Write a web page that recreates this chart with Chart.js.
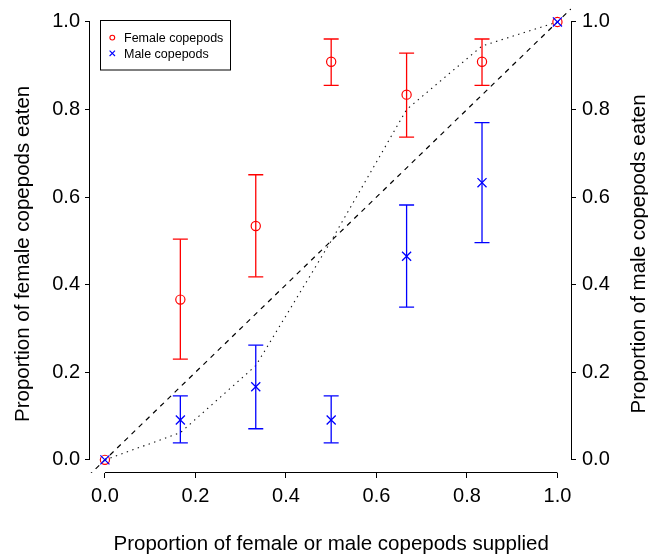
<!DOCTYPE html>
<html><head><meta charset="utf-8">
<script src="https://cdn.jsdelivr.net/npm/chart.js@4.4.1/dist/chart.umd.min.js"></script>
<style>html,body{margin:0;padding:0;background:#fff;}</style>
</head><body>
<canvas id="c" width="648" height="556" style="width:648px;height:556px;display:block"></canvas>
<script>
// ---- data ----
const supplied    = [0, 1/6, 1/3, 1/2, 2/3, 5/6, 1];
const femaleEaten = [0, 0.366, 0.534, 0.909, 0.834, 0.909, 1];
const femaleLow   = [null, 0.230, 0.418, 0.855, 0.737, 0.855, null];
const femaleHigh  = [null, 0.504, 0.651, 0.961, 0.929, 0.961, null];
const maleEaten   = [0, 0.091, 0.167, 0.091, 0.465, 0.633, 1];
const maleLow     = [null, 0.039, 0.071, 0.039, 0.349, 0.496, null];
const maleHigh    = [null, 0.146, 0.262, 0.146, 0.582, 0.770, null];
const expectedCurve = [0, 0.062, 0.215, 0.5, 0.80, 0.945, 1];
const equalLineX  = [-0.1, 1.1];
const equalLineY  = [-0.1, 1.1];
const tickValues  = [0, 0.2, 0.4, 0.6, 0.8, 1.0];
const tickLabels  = ['0.0', '0.2', '0.4', '0.6', '0.8', '1.0'];
const xTitle  = 'Proportion of female or male copepods supplied';
const yTitle  = 'Proportion of female copepods eaten';
const y2Title = 'Proportion of male copepods eaten';
const legendLabels = ['Female copepods', 'Male copepods'];

const FONT = '"Liberation Sans", Arial, Helvetica, sans-serif';
const RED = '#ff0000', BLUE = '#0000ff';

const pts = (xs, ys) => xs.map((x, i) => ({x, y: ys[i]}));
function errorPoints(lo, hi) {
  const out = [];
  supplied.forEach((x, i) => {
    if (lo[i] === null) return;
    out.push({x, y: lo[i]}, {x, y: hi[i]}, {x, y: null});
  });
  return out;
}

const axisLines = {
  id: 'axisLines',
  beforeDatasetsDraw(chart) {
    const {ctx, chartArea: ca, scales: {x, y}} = chart;
    ctx.save();
    ctx.strokeStyle = '#000';
    ctx.lineWidth = 1;
    ctx.beginPath();
    const y0 = y.getPixelForValue(tickValues[0]), y1 = y.getPixelForValue(tickValues[tickValues.length - 1]);
    const x0 = x.getPixelForValue(tickValues[0]), x1 = x.getPixelForValue(tickValues[tickValues.length - 1]);
    ctx.moveTo(ca.left - 0.5, y0); ctx.lineTo(ca.left - 0.5, y1);
    ctx.moveTo(ca.right + 0.5, y0); ctx.lineTo(ca.right + 0.5, y1);
    ctx.moveTo(x0, ca.bottom - 0.5); ctx.lineTo(x1, ca.bottom - 0.5);
    ctx.stroke();
    ctx.restore();
  },
  afterDraw(chart) {
    const {ctx, scales: {x, y}} = chart;
    ctx.save();
    ctx.fillStyle = '#000';
    ctx.font = '20.5px ' + FONT;
    ctx.textAlign = 'center';
    ctx.textBaseline = 'alphabetic';
    ctx.fillText(xTitle, (x.getPixelForValue(0) + x.getPixelForValue(1)) / 2, 550);
    const cy = (y.getPixelForValue(0) + y.getPixelForValue(1)) / 2 + 13;
    ctx.save(); ctx.translate(29, cy); ctx.rotate(-Math.PI / 2); ctx.fillText(yTitle, 0, 0); ctx.restore();
    ctx.save(); ctx.translate(644.5, cy); ctx.rotate(-Math.PI / 2); ctx.fillText(y2Title, 0, 0); ctx.restore();
    // legend
    const lx = 100.5, ly = 20.5, lw = 130, lh = 49.5;
    ctx.strokeStyle = '#000'; ctx.lineWidth = 1;
    ctx.strokeRect(lx, ly, lw, lh);
    ctx.font = '12.5px ' + FONT;
    ctx.textAlign = 'left';
    ctx.fillText(legendLabels[0], 124, 41.8);
    ctx.fillText(legendLabels[1], 124, 57.6);
    ctx.lineWidth = 1.1;
    ctx.strokeStyle = RED;
    ctx.beginPath(); ctx.arc(112.3, 37.6, 2.4, 0, Math.PI * 2); ctx.stroke();
    ctx.strokeStyle = BLUE;
    ctx.beginPath();
    ctx.moveTo(109.6, 50.6); ctx.lineTo(115, 56);
    ctx.moveTo(115, 50.6); ctx.lineTo(109.6, 56);
    ctx.stroke();
    ctx.restore();
  }
};

function axisCfg(position, size) {
  const horiz = position === 'bottom';
  return {
    type: 'linear', position,
    min: horiz ? -0.033 : -0.03,
    max: 1.03,
    afterFit(s) {
      if (horiz) { s.height = size; s.paddingLeft = 0; s.paddingRight = 0; }
      else { s.width = size; s.paddingTop = 0; s.paddingBottom = 0; }
    },
    afterBuildTicks(s) { s.ticks = tickValues.map(v => ({value: v})); },
    ticks: {
      callback: (v, i) => tickLabels[i],
      font: {family: FONT, size: 20}, color: '#000',
      padding: horiz ? 6 : (position === 'left' ? 5 : 6),
      maxRotation: 0, autoSkip: false
    },
    grid: {drawOnChartArea: false, drawTicks: true, tickLength: 5, color: '#000', lineWidth: 1},
    border: {display: false}
  };
}

new Chart(document.getElementById('c'), {
  type: 'scatter',
  data: {
    datasets: [
      {label: 'equal', type: 'line', data: pts(equalLineX, equalLineY), borderColor: '#000', borderWidth: 1.2,
       borderDash: [5, 5], pointRadius: 0, fill: false, order: 5},
      {label: 'expected', type: 'line', data: pts(supplied, expectedCurve), borderColor: '#111', borderWidth: 1.1,
       borderDash: [1.4, 4.4], pointRadius: 0, fill: false, tension: 0, order: 5},
      {label: 'femaleErr', type: 'line', data: errorPoints(femaleLow, femaleHigh), borderColor: RED, borderWidth: 1.3,
       spanGaps: false, pointStyle: 'line', pointRadius: 7.5, pointBorderWidth: 1.3, pointBorderColor: RED, fill: false, order: 3},
      {label: 'maleErr', type: 'line', data: errorPoints(maleLow, maleHigh), borderColor: BLUE, borderWidth: 1.3,
       spanGaps: false, pointStyle: 'line', pointRadius: 7.5, pointBorderWidth: 1.3, pointBorderColor: BLUE, fill: false, order: 3},
      {label: legendLabels[0], data: pts(supplied, femaleEaten), showLine: false, pointStyle: 'circle', pointRadius: 4.6,
       pointBorderWidth: 1.2, pointBorderColor: RED, pointBackgroundColor: 'rgba(0,0,0,0)', order: 1},
      {label: legendLabels[1], data: pts(supplied, maleEaten), showLine: false, pointStyle: 'crossRot', pointRadius: 6.4,
       pointBorderWidth: 1.3, pointBorderColor: BLUE, order: 0}
    ]
  },
  options: {
    responsive: false, animation: false,
    layout: {padding: {top: 7, left: 0, right: 0, bottom: 0}},
    plugins: {legend: {display: false}, tooltip: {enabled: false}},
    scales: {
      x: axisCfg('bottom', 83),
      y: axisCfg('left', 90),
      y2: axisCfg('right', 77)
    }
  },
  plugins: [axisLines]
});
</script>
</body></html>
